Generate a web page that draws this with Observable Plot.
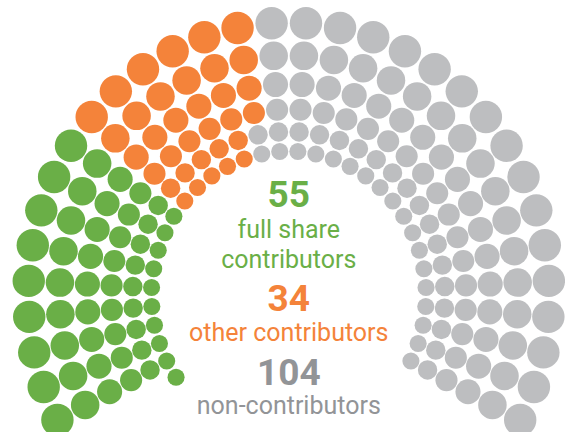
<!DOCTYPE html>
<html><head><meta charset="utf-8">
<script src="https://cdn.jsdelivr.net/npm/d3@7"></script>
<script src="https://cdn.jsdelivr.net/npm/@observablehq/plot@0.6"></script>
<style>html,body{margin:0;padding:0;background:#fff} svg{display:block}</style>
</head><body><div id="chart"></div>
<script>
// ---- data ----
const groups = ["full share contributors", "other contributors", "non-contributors"];
const counts = [55, 34, 104];
const numberLabels = ["55", "34", "104"];
const labelLines = [["full share", "contributors"], ["other contributors"], ["non-contributors"]];
const dotColors = ["#6aaf47", "#f4833a", "#bdbec0"];
const textColors = ["#6aaf47", "#f4833a", "#929497"];

// ---- parliament layout (6 rows, equal seats per row, size ∝ row radius) ----
const total = d3.sum(counts);
const rows = 6, perRow = Math.floor(total / rows), shrink = 0.88;
const startDeg = -27.3, endDeg = 207.3;
const step = (endDeg - startDeg) / (perRow - 1);
const seats = [];
for (let i = 0; i < rows; i++) {
  const f = Math.pow(shrink, i);
  const n = i === rows - 1 ? total - perRow * (rows - 1) : perRow;
  for (let k = 0; k < n; k++) {
    const a = (startDeg + k * step) * Math.PI / 180;
    seats.push({row: i, f, angle: a, x: Math.cos(a) * f, y: Math.sin(a) * f});
  }
}
seats.sort((p, q) => (q.angle - p.angle) || (p.row - q.row));
let idx = 0;
counts.forEach((c, g) => { for (let j = 0; j < c; j++) seats[idx++].group = groups[g]; });

// ---- text lines ----
const cx = 288.3, cy = 294.5;
const lines = [];
const baselines = [[206.7], [237.3, 267.3], [310], [340], [384], [413.3]];
const lineSpec = [
  {text: numberLabels[0], g: 0, num: true, base: 206.7},
  {text: labelLines[0][0], g: 0, num: false, base: 237.3},
  {text: labelLines[0][1], g: 0, num: false, base: 267.3},
  {text: numberLabels[1], g: 1, num: true, base: 310},
  {text: labelLines[1][0], g: 1, num: false, base: 340},
  {text: numberLabels[2], g: 2, num: true, base: 384},
  {text: labelLines[2][0], g: 2, num: false, base: 413.3}
];
const textMarks = lineSpec.map(s => Plot.text([s.text], {
  x: () => 0, y: () => 0, text: d => d,
  dy: s.base - cy,
  lineAnchor: "bottom", textAnchor: "middle",
  fill: s.num ? textColors[s.g] : (s.g === 2 ? "#929497" : textColors[s.g]),
  fontSize: s.num ? 37 : 25,
  fontWeight: s.num ? "bold" : "normal",
  fontFamily: "Roboto, sans-serif"
}));

const W = 565, H = 432, ax = 260.4, by = 272.4;
const chart = Plot.plot({
  width: W, height: H,
  margin: 0,
  x: {domain: [-cx / ax, (W - cx) / ax], axis: null},
  y: {domain: [-(H - cy) / by, cy / by], axis: null},
  r: {type: "linear", domain: [0, 1], range: [0, 16.2]},
  color: {domain: groups, range: dotColors},
  style: {background: "#fff", fontFamily: "Roboto, sans-serif"},
  marks: [
    Plot.dot(seats, {x: "x", y: "y", r: "f", fill: "group", stroke: null}),
    ...textMarks
  ]
});
document.getElementById("chart").appendChild(chart);
</script>
</body></html>
